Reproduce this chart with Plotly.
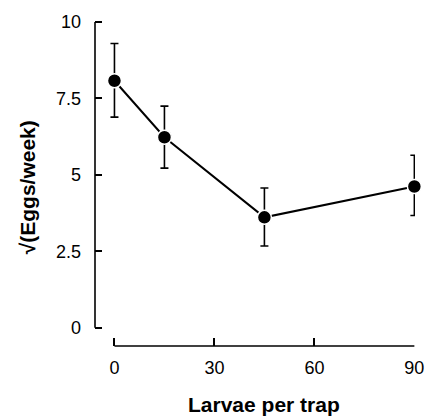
import plotly.graph_objects as go

larvae = [0, 15, 45, 90]
sqrt_eggs = [8.08, 6.23, 3.61, 4.62]
err_plus = [1.22, 1.02, 0.96, 1.02]
err_minus = [1.19, 1.01, 0.94, 0.95]
x_ticks = [0, 30, 60, 90]
y_ticks = [0, 2.5, 5, 7.5, 10]
y_tick_labels = ["0", "2.5", "5", "7.5", "10"]
x_title = "Larvae per trap"
y_title = "√(Eggs/week)"

FONT = "Liberation Sans, Arial, Helvetica, sans-serif"

fig = go.Figure()
fig.add_trace(go.Scatter(
    x=larvae, y=sqrt_eggs, mode="lines+markers", cliponaxis=False,
    line=dict(color="black", width=2),
    marker=dict(color="black", size=14, line=dict(color="white", width=1.5)),
    error_y=dict(type="data", symmetric=False, array=err_plus, arrayminus=err_minus,
                 color="black", thickness=1.6, width=4),
    showlegend=False,
))

fig.update_layout(
    width=436, height=417,
    margin=dict(l=95, r=12, t=16, b=71),
    paper_bgcolor="white", plot_bgcolor="white",
    font=dict(family=FONT, color="black", size=18),
    xaxis=dict(range=[-5.84, 90.19], tickvals=x_ticks, ticks="inside", ticklen=8,
               tickwidth=1.5, tickcolor="black", showline=False, showgrid=False,
               zeroline=False, tickfont=dict(size=18), ticklabelstandoff=9),
    yaxis=dict(range=[-0.6, 10.1], tickvals=y_ticks, ticktext=y_tick_labels,
               ticks="inside", ticklen=7, tickwidth=1.5, tickcolor="black",
               showline=False, showgrid=False, zeroline=False,
               tickfont=dict(size=18), ticklabelstandoff=13),
    shapes=[
        dict(type="line", xref="paper", yref="y", x0=0, x1=0, y0=0, y1=10,
             line=dict(color="black", width=1.6)),
        dict(type="line", xref="x", yref="paper", x0=0, x1=90, y0=0, y1=0,
             line=dict(color="black", width=1.6)),
    ],
    annotations=[
        dict(text="<b>" + x_title + "</b>", xref="x", yref="paper", x=45, y=-0.179,
             xanchor="center", yanchor="middle", showarrow=False, font=dict(size=21)),
        dict(text="<b>" + y_title + "</b>", xref="paper", yref="y", x=-0.2128, y=4.59,
             xanchor="center", yanchor="middle", textangle=-90, showarrow=False,
             font=dict(size=21)),
    ],
)

fig.write_html("out.html", config={"displayModeBar": False},
               post_script="document.body.style.margin='0';")
